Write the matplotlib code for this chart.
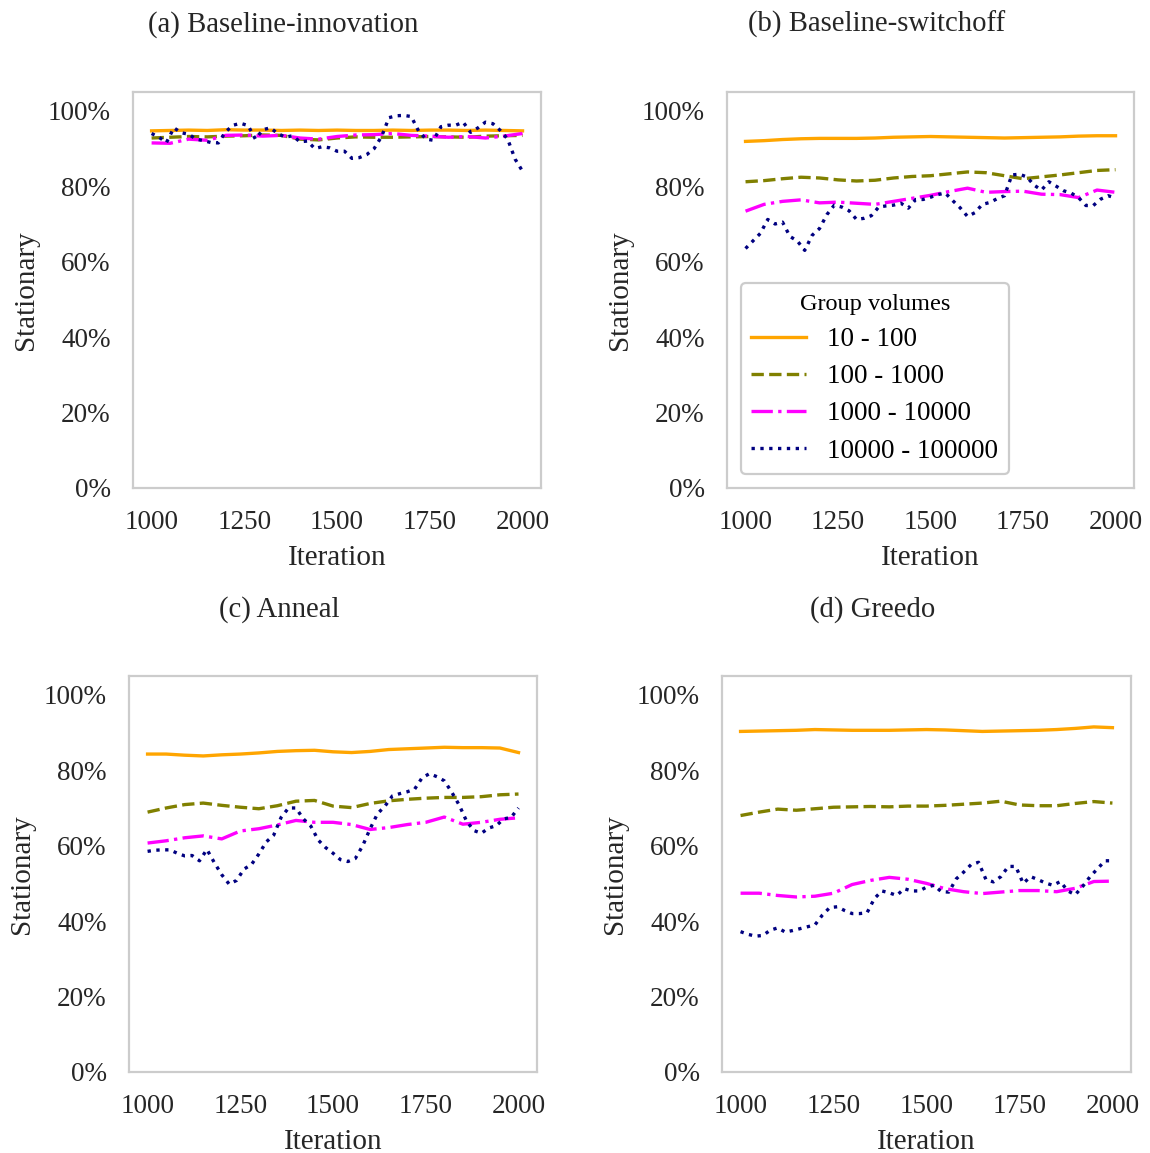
import numpy as np
import matplotlib
matplotlib.use("Agg")
import matplotlib.pyplot as plt
from matplotlib.ticker import PercentFormatter

plt.rcParams['font.family'] = 'serif'
plt.rcParams['font.serif'] = ['Liberation Serif', 'DejaVu Serif']
plt.rcParams['font.size'] = 19

# smooth series sampled every 50 iterations, the noisy largest group every 20
iters_c = np.arange(1000, 2001, 50)
iters_f = np.arange(1000, 2001, 20)

labels = ['10 - 100', '100 - 1000', '1000 - 10000', '10000 - 100000']
titles = ['(a) Baseline-innovation', '(b) Baseline-switchoff', '(c) Anneal', '(d) Greedo']

# (a) Baseline-innovation
a_small = [0.947, 0.948, 0.949, 0.948, 0.950, 0.949, 0.949, 0.948, 0.949, 0.948, 0.949,
           0.948, 0.948, 0.949, 0.948, 0.949, 0.949, 0.948, 0.949, 0.948, 0.947]
a_mid = [0.928, 0.930, 0.932, 0.931, 0.933, 0.934, 0.936, 0.935, 0.925, 0.923, 0.928,
         0.931, 0.930, 0.930, 0.931, 0.932, 0.931, 0.930, 0.933, 0.934, 0.935]
a_large = [0.915, 0.914, 0.925, 0.922, 0.935, 0.936, 0.933, 0.935, 0.928, 0.925, 0.932,
           0.936, 0.937, 0.940, 0.935, 0.933, 0.930, 0.932, 0.928, 0.933, 0.940]
a_huge = [0.940, 0.930, 0.916, 0.955, 0.942, 0.938, 0.925, 0.921, 0.916, 0.915, 0.945,
          0.962, 0.967, 0.961, 0.925, 0.950, 0.955, 0.940, 0.930, 0.934, 0.918, 0.920,
          0.900, 0.905, 0.902, 0.893, 0.893, 0.874, 0.876, 0.884, 0.900, 0.932, 0.982,
          0.987, 0.988, 0.985, 0.946, 0.925, 0.922, 0.958, 0.962, 0.962, 0.970, 0.943,
          0.955, 0.970, 0.966, 0.948, 0.925, 0.872, 0.840]

# (b) Baseline-switchoff
b_small = [0.919, 0.921, 0.924, 0.926, 0.927, 0.927, 0.927, 0.928, 0.930, 0.931, 0.932,
           0.931, 0.930, 0.929, 0.928, 0.929, 0.930, 0.931, 0.933, 0.934, 0.934]
b_mid = [0.812, 0.815, 0.820, 0.824, 0.822, 0.817, 0.814, 0.816, 0.822, 0.826, 0.828,
         0.833, 0.838, 0.836, 0.828, 0.820, 0.825, 0.830, 0.836, 0.842, 0.844]
b_large = [0.734, 0.752, 0.760, 0.764, 0.756, 0.758, 0.755, 0.752, 0.760, 0.768, 0.776,
           0.786, 0.795, 0.784, 0.786, 0.787, 0.779, 0.778, 0.770, 0.790, 0.784]
b_huge = [0.635, 0.655, 0.675, 0.712, 0.700, 0.705, 0.667, 0.655, 0.630, 0.670, 0.688,
          0.725, 0.750, 0.745, 0.735, 0.712, 0.715, 0.722, 0.745, 0.748, 0.750, 0.755,
          0.742, 0.765, 0.765, 0.771, 0.778, 0.782, 0.762, 0.743, 0.720, 0.730, 0.752,
          0.757, 0.767, 0.775, 0.830, 0.832, 0.825, 0.803, 0.790, 0.812, 0.800, 0.788,
          0.782, 0.770, 0.749, 0.749, 0.766, 0.775, 0.769]

# (c) Anneal
c_small = [0.843, 0.843, 0.840, 0.838, 0.841, 0.843, 0.846, 0.850, 0.852, 0.853, 0.849,
           0.847, 0.850, 0.855, 0.857, 0.859, 0.861, 0.860, 0.860, 0.859, 0.847]
c_mid = [0.689, 0.700, 0.709, 0.713, 0.707, 0.702, 0.698, 0.706, 0.718, 0.720, 0.705,
         0.701, 0.712, 0.719, 0.723, 0.726, 0.728, 0.728, 0.730, 0.735, 0.737]
c_large = [0.607, 0.613, 0.621, 0.626, 0.618, 0.639, 0.645, 0.655, 0.667, 0.662, 0.662,
           0.656, 0.643, 0.648, 0.656, 0.662, 0.676, 0.657, 0.662, 0.670, 0.674]
c_huge = [0.585, 0.588, 0.589, 0.589, 0.580, 0.573, 0.574, 0.560, 0.590, 0.555, 0.523,
          0.498, 0.508, 0.538, 0.550, 0.578, 0.610, 0.628, 0.675, 0.700, 0.700, 0.671,
          0.652, 0.615, 0.595, 0.580, 0.563, 0.558, 0.566, 0.600, 0.645, 0.685, 0.705,
          0.732, 0.738, 0.743, 0.750, 0.780, 0.791, 0.783, 0.772, 0.742, 0.708, 0.665,
          0.640, 0.633, 0.647, 0.653, 0.671, 0.675, 0.700]

# (d) Greedo
d_small = [0.903, 0.904, 0.905, 0.906, 0.908, 0.907, 0.906, 0.906, 0.906, 0.907, 0.908,
           0.907, 0.905, 0.903, 0.904, 0.905, 0.906, 0.908, 0.911, 0.915, 0.913]
d_mid = [0.680, 0.689, 0.697, 0.694, 0.698, 0.702, 0.703, 0.704, 0.703, 0.705, 0.705,
         0.707, 0.710, 0.713, 0.718, 0.708, 0.706, 0.706, 0.712, 0.717, 0.713]
d_large = [0.474, 0.474, 0.468, 0.464, 0.466, 0.474, 0.497, 0.508, 0.516, 0.511, 0.500,
           0.486, 0.478, 0.473, 0.477, 0.481, 0.481, 0.478, 0.487, 0.505, 0.506]
d_huge = [0.372, 0.365, 0.360, 0.362, 0.376, 0.382, 0.371, 0.375, 0.380, 0.385, 0.390,
          0.416, 0.436, 0.438, 0.428, 0.420, 0.420, 0.422, 0.460, 0.480, 0.475, 0.468,
          0.486, 0.480, 0.480, 0.490, 0.495, 0.478, 0.477, 0.512, 0.530, 0.550, 0.556,
          0.510, 0.504, 0.518, 0.545, 0.545, 0.500, 0.518, 0.510, 0.501, 0.495, 0.505,
          0.480, 0.470, 0.492, 0.518, 0.539, 0.560, 0.560]

panels = [
    (a_small, a_mid, a_large, a_huge),
    (b_small, b_mid, b_large, b_huge),
    (c_small, c_mid, c_large, c_huge),
    (d_small, d_mid, d_large, d_huge),
]

colors = ['orange', 'olive', 'magenta', 'navy']
styles = ['-', '--', '-.', ':']

fig = plt.figure(figsize=(11.5, 11.53), dpi=100)
rects = [
    [0.1157, 0.5768, 0.3548, 0.3434],
    [0.6322, 0.5768, 0.3539, 0.3434],
    [0.1122, 0.0703, 0.3548, 0.3434],
    [0.6278, 0.0703, 0.3557, 0.3434],
]
title_pos = [(0.246, 0.9785), (0.7626, 0.9785), (0.2426, 0.4715), (0.759, 0.4715)]

for i, (rect, series) in enumerate(zip(rects, panels)):
    ax = fig.add_axes(rect)
    for j, vals in enumerate(series):
        xs = iters_f if j == 3 else iters_c
        ax.plot(xs, vals, color=colors[j], linestyle=styles[j], lw=2.4, label=labels[j])
    ax.set_ylim(0, 1.05)
    ax.set_yticks([0, 0.2, 0.4, 0.6, 0.8, 1.0])
    ax.yaxis.set_major_formatter(PercentFormatter(1.0, decimals=0))
    ax.set_xticks([1000, 1250, 1500, 1750, 2000])
    ax.tick_params(length=0, pad=16, colors='#262626', labelsize=19.5)
    ax.set_xlabel('Iteration', color='#262626', fontsize=21, labelpad=7)
    ax.set_ylabel('Stationary', color='#262626', fontsize=21, labelpad=6)
    for sp in ax.spines.values():
        sp.set_color('#cccccc')
        sp.set_linewidth(1.6)
    fig.text(title_pos[i][0], title_pos[i][1], titles[i], ha='center', va='center',
             color='#262626', fontsize=20.7)
    if i == 1:
        leg = ax.legend(title='Group volumes', loc='lower left', fontsize=19.5,
                        title_fontsize=17.5, edgecolor='#cccccc', framealpha=1,
                        labelspacing=0.45)
        leg.get_frame().set_linewidth(1.6)

fig.savefig('out.png', dpi=100)
